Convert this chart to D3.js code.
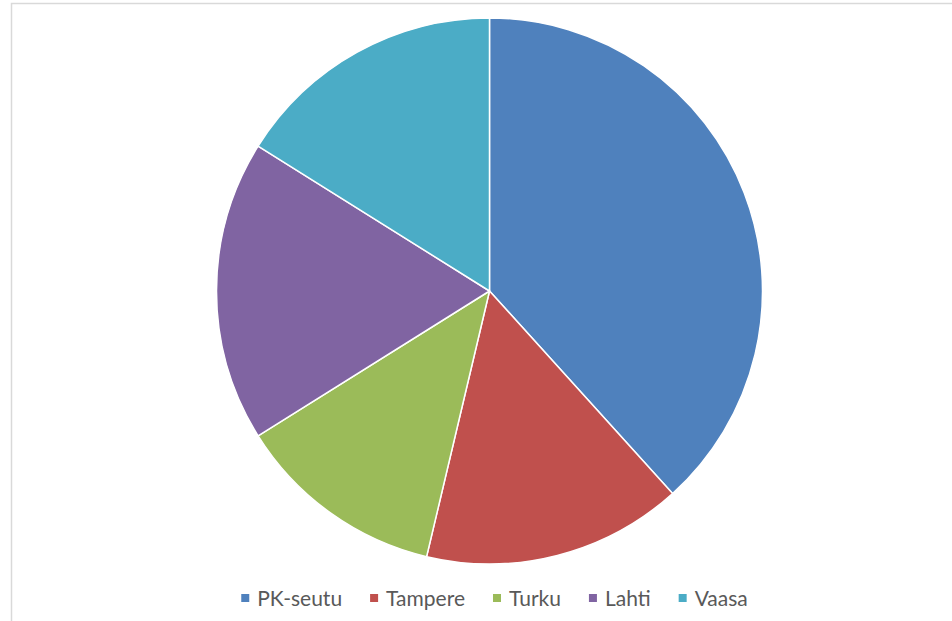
<!DOCTYPE html>
<html>
<head>
<meta charset="utf-8">
<script src="https://cdn.jsdelivr.net/npm/d3@7"></script>
<style>
  html, body { margin: 0; padding: 0; background: #fff; }
  svg { display: block; }
  .legend text { font-family: Lato, "Open Sans", sans-serif; font-size: 21px; fill: #595959; }
</style>
</head>
<body>
<div id="chart"></div>
<script>
// Shares by city (percent)
const cities = ["PK-seutu", "Tampere", "Turku", "Lahti", "Vaasa"];
const shares = [38.3, 15.4, 12.4, 17.8, 16.1];
const colours = ["#4F81BD", "#C0504D", "#9BBB59", "#8064A2", "#4BACC6"];

const width = 952;
const height = 621;

const svg = d3.select("#chart")
    .append("svg")
    .attr("width", width)
    .attr("height", height);

// chart area frame (right and bottom edges fall outside the picture)
svg.append("rect")
    .attr("x", 11.5)
    .attr("y", 3.5)
    .attr("width", 960)
    .attr("height", 640)
    .attr("fill", "#fff")
    .attr("stroke", "#d9d9d9")
    .attr("stroke-width", 1.5);

const data = cities.map((c, i) => ({ city: c, value: shares[i] }));
const colour = d3.scaleOrdinal().domain(cities).range(colours);

const pie = d3.pie().sort(null).value(d => d.value);
const arc = d3.arc().innerRadius(0).outerRadius(273);

const g = svg.append("g")
    .attr("transform", "translate(489.5,291)");

g.selectAll("path")
    .data(pie(data))
    .enter()
    .append("path")
    .attr("d", arc)
    .attr("fill", d => colour(d.data.city))
    .attr("stroke", "#fff")
    .attr("stroke-width", 1.5)
    .attr("stroke-linejoin", "round");

// Legend along the bottom
const legend = svg.append("g").attr("class", "legend");
const items = legend.selectAll("g")
    .data(cities)
    .enter()
    .append("g");

items.append("rect")
    .attr("width", 8)
    .attr("height", 8)
    .attr("y", 594)
    .attr("fill", d => colour(d));

items.append("text")
    .attr("x", 16)
    .attr("y", 605.5)
    .text(d => d);

// place items side by side using measured text widths
let x = 0;
const gap = 28;
items.each(function () {
    const w = 16 + d3.select(this).select("text").node().getComputedTextLength();
    d3.select(this).attr("transform", `translate(${x},0)`);
    x += w + gap;
});
const total = x - gap;
legend.attr("transform", `translate(${494.5 - total / 2},0)`);
</script>
</body>
</html>
